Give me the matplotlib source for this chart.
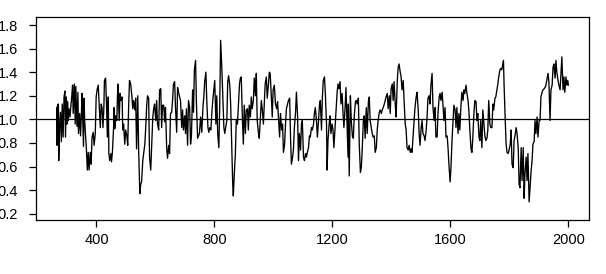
import matplotlib
matplotlib.use("Agg")
import matplotlib.pyplot as plt

years = [
    265, 266, 268, 271, 272, 275, 278, 281, 284, 287, 290, 293, 295, 298, 300, 302, 304, 307, 310, 316,
    319, 321, 325, 328, 330, 334, 337, 339, 343, 346, 349, 351, 356, 358, 360, 366, 369, 372, 375, 379,
    382, 385, 389, 392, 396, 399, 402, 406, 409, 413, 416, 419, 422, 425, 427, 431, 434, 437, 440, 442,
    445, 449, 451, 454, 458, 460, 462, 465, 469, 471, 473, 477, 480, 483, 487, 489, 492, 496, 499, 503,
    506, 509, 512, 516, 520, 523, 526, 530, 533, 536, 540, 543, 547, 550, 553, 557, 560, 564, 567, 570,
    573, 577, 580, 584, 587, 591, 594, 597, 601, 604, 607, 611, 614, 618, 621, 624, 628, 631, 634, 638,
    641, 645, 648, 651, 655, 658, 661, 665, 668, 672, 675, 678, 682, 685, 689, 692, 695, 699, 702, 705,
    709, 712, 716, 719, 722, 726, 729, 732, 736, 739, 743, 746, 749, 753,
    757, 761, 764, 767, 771, 774, 778, 781, 784, 788, 791, 794, 798, 801, 805, 808, 811, 815, 818, 821,
    825, 828, 832, 835, 838, 842, 845, 848, 852, 855, 859, 862, 864, 868, 871, 874, 878, 881, 885, 888,
    891, 895, 898, 901, 905, 908, 912, 915, 918, 922, 925, 928, 932, 935, 939, 942, 945, 949, 952, 956,
    959, 962, 966, 969, 972, 976, 979, 983, 986, 989, 993, 996, 999, 1003,
    1007, 1011, 1014, 1017, 1021, 1024, 1028, 1031, 1034, 1038, 1041, 1044, 1048, 1051, 1055, 1058, 1061,
    1065, 1068, 1071, 1075, 1078, 1082, 1085, 1088, 1092, 1095, 1098, 1102, 1105, 1109, 1112, 1115, 1119,
    1122, 1125, 1129, 1132, 1136, 1139, 1142, 1146, 1149, 1153, 1156, 1159, 1163, 1166, 1169, 1173, 1176,
    1180, 1182, 1185, 1189, 1192, 1195, 1199, 1202, 1205, 1209, 1212, 1216, 1219, 1222, 1226, 1229, 1233,
    1236, 1239, 1243, 1246, 1249, 1253,
    1254, 1257, 1261, 1264, 1268, 1271, 1274, 1278, 1281, 1284, 1288, 1291, 1295, 1298, 1301, 1305, 1308,
    1311, 1315, 1318, 1322, 1325, 1328, 1332, 1335, 1338, 1342, 1345, 1349, 1352, 1355, 1359, 1362, 1366,
    1369, 1372, 1376, 1379, 1382, 1386, 1389, 1393, 1396, 1399, 1403, 1406, 1409, 1413, 1416, 1420, 1423,
    1426, 1430, 1433, 1436, 1440, 1443, 1447, 1450, 1453, 1457, 1460, 1464, 1467, 1470, 1474, 1477, 1480,
    1484, 1487, 1491, 1494, 1497, 1501,
    1504, 1507, 1511, 1514, 1518, 1521, 1524, 1528, 1531, 1534, 1538, 1541, 1545, 1548, 1551, 1555, 1558,
    1562, 1565, 1568, 1572, 1575, 1578, 1582, 1585, 1589, 1592, 1595, 1599, 1602, 1605, 1609, 1612, 1616,
    1619, 1622, 1626, 1629, 1632, 1636, 1639, 1643, 1646, 1649, 1653, 1656, 1660, 1663, 1666, 1670, 1673,
    1676, 1680, 1683, 1687, 1690, 1693, 1697, 1700, 1703, 1707, 1710, 1714, 1717, 1720, 1724, 1727, 1730,
    1734, 1737, 1741, 1744, 1747, 1751,
    1754, 1758, 1761, 1764, 1768, 1771, 1774, 1778, 1780, 1782, 1786, 1789, 1792, 1796, 1799, 1803, 1806,
    1809, 1813, 1816, 1819, 1823, 1826, 1830, 1833, 1836, 1840, 1843, 1847, 1850, 1853, 1857, 1860, 1863,
    1867, 1870, 1874, 1877, 1880, 1884, 1887, 1890, 1894, 1897, 1901, 1904, 1907, 1911, 1914, 1918, 1921,
    1924, 1928, 1931, 1934, 1938, 1941, 1945, 1948, 1951, 1955, 1958, 1961, 1965, 1968, 1972, 1975, 1978,
    1982, 1985, 1988, 1992, 1995, 1998, 2000,
]

values = [
    1.10, 0.78, 1.12, 1.13, 0.65, 0.93, 1.06, 0.81, 1.13, 0.85, 1.19, 1.24, 0.85, 1.19, 0.96, 1.15, 0.99, 1.09, 1.02, 1.19,
    1.29, 1.05, 1.30, 0.96, 1.28, 0.94, 1.23, 0.88, 1.05, 0.86, 1.05, 1.22, 0.77, 1.18, 0.99, 0.74, 0.57, 0.72, 0.57, 0.72,
    0.62, 0.85, 0.89, 0.78, 0.88, 1.19, 1.25, 1.29, 1.13, 0.93, 1.13, 1.10, 0.93, 1.09, 1.33, 1.35, 1.13, 0.85, 1.19, 0.71,
    0.65, 0.71, 0.64, 0.72, 0.93, 1.10, 0.92, 1.03, 0.99, 1.18, 1.30, 0.99, 1.22, 1.16, 1.19, 0.91, 0.96, 0.79, 0.91, 0.86,
    0.78, 1.10, 1.33, 1.30, 1.20, 1.09, 1.16, 1.08, 1.18, 0.75, 1.20, 0.74, 0.37, 0.45, 0.47, 0.65, 0.71, 0.79, 0.93, 1.10,
    1.20, 1.18, 0.68, 0.57, 0.76, 1.02, 1.09, 1.13, 0.99, 1.16, 0.96, 0.91, 1.25, 1.26, 0.93, 1.12, 1.12, 0.98, 1.10, 0.76,
    0.67, 0.78, 0.71, 1.05, 1.06, 1.16, 1.30, 1.32, 1.10, 0.89, 1.27, 1.23, 1.19, 1.16, 0.93, 1.08, 0.91, 1.03, 0.88, 1.09,
    0.78, 1.16, 1.10, 0.79, 0.86, 1.25, 1.06, 1.42, 1.50, 1.13, 0.84, 0.86, 0.88, 1.02,
    0.89, 1.10, 1.19, 1.32, 1.40, 1.16, 0.93, 0.89, 0.93, 0.91, 1.05, 1.15, 1.25, 1.33, 0.96, 1.20, 0.88, 0.76, 1.13, 1.67,
    1.44, 1.22, 0.93, 0.88, 0.93, 0.99, 1.32, 1.37, 1.29, 1.13, 0.76, 0.45, 0.35, 0.57, 0.71, 0.99, 0.96, 1.10, 1.30, 1.35,
    1.36, 0.99, 0.79, 1.12, 0.88, 1.08, 1.09, 0.91, 1.12, 1.02, 1.19, 1.09, 1.16, 1.35, 1.20, 1.39, 0.99, 0.89, 0.84, 1.03,
    1.16, 1.09, 0.96, 1.12, 1.30, 1.36, 1.18, 1.29, 1.40, 1.39, 1.19, 1.02, 1.25, 1.29,
    1.13, 1.09, 1.15, 1.02, 0.85, 1.05, 0.91, 0.96, 0.72, 0.79, 0.96, 1.09, 1.13, 1.16, 1.18, 0.85, 0.62,
    0.68, 0.75, 0.93, 1.06, 1.23, 1.02, 0.65, 0.88, 0.74, 0.96, 0.99, 0.68, 0.65, 0.71, 0.68, 0.72, 0.76,
    0.86, 0.85, 0.93, 0.91, 0.96, 1.05, 1.10, 0.99, 0.85, 0.99, 1.12, 1.16, 0.91, 1.19, 1.33, 1.36, 1.22,
    0.96, 0.57, 0.82, 0.96, 1.03, 0.88, 0.96, 0.91, 0.76, 0.93, 1.05, 1.23, 1.30, 1.26, 1.32, 1.13, 1.22,
    1.05, 0.93, 1.10, 1.27, 1.02, 0.68,
    1.13, 0.52, 1.20, 0.99, 0.85, 0.84, 1.02, 1.15, 1.16, 1.13, 1.18, 0.79, 0.55, 0.59, 0.74, 0.99, 1.03,
    0.84, 1.10, 0.88, 1.15, 1.19, 0.99, 0.93, 0.88, 0.85, 0.86, 0.72, 0.76, 0.91, 0.99, 1.06, 1.08, 1.05,
    1.08, 1.10, 1.13, 1.16, 1.19, 1.22, 1.09, 1.20, 1.05, 1.26, 1.30, 1.16, 1.32, 1.13, 1.02, 1.33, 1.44,
    1.47, 1.40, 1.36, 1.25, 1.33, 1.16, 0.96, 0.91, 0.76, 0.74, 0.78, 0.72, 0.75, 0.72, 0.88, 0.99, 1.10,
    1.19, 1.23, 1.08, 0.88, 0.78, 0.93,
    0.99, 0.88, 0.86, 0.82, 0.91, 1.02, 1.18, 1.20, 1.13, 1.29, 1.39, 1.10, 0.99, 1.10, 0.85, 0.85, 1.05,
    1.19, 1.22, 1.16, 1.23, 1.12, 0.99, 1.10, 0.85, 0.86, 0.76, 0.62, 0.47, 0.59, 0.79, 0.99, 1.12, 1.08,
    0.93, 1.10, 0.88, 1.05, 0.91, 1.12, 1.23, 1.16, 1.25, 1.22, 1.29, 1.22, 1.16, 1.06, 0.91, 0.75, 0.72,
    0.84, 1.06, 1.16, 1.15, 0.99, 1.05, 0.85, 0.82, 0.99, 0.76, 1.08, 0.96, 0.86, 0.82, 0.84, 0.91, 1.16,
    0.96, 0.93, 0.93, 1.13, 1.08, 1.18,
    1.19, 1.25, 1.30, 1.36, 1.42, 1.43, 1.42, 1.47, 1.50, 1.30, 0.99, 0.79, 0.72, 0.71, 0.74, 0.79, 0.91,
    0.62, 0.59, 0.82, 0.86, 0.93, 0.88, 0.76, 0.45, 0.42, 0.76, 0.48, 0.76, 0.33, 0.54, 0.68, 0.48, 0.71,
    0.30, 0.42, 0.57, 0.65, 0.79, 0.81, 0.99, 0.88, 1.02, 0.85, 0.99, 0.99, 1.19, 1.23, 1.25, 1.26, 1.27,
    1.29, 1.35, 1.39, 1.32, 0.99, 1.25, 1.29, 1.44, 1.47, 1.35, 1.50, 1.40, 1.33, 1.29, 1.25, 1.39, 1.53,
    1.25, 1.36, 1.23, 1.36, 1.29, 1.33, 1.29,
]

x_ticks = [400, 800, 1200, 1600, 2000]
y_ticks = [0.2, 0.4, 0.6, 0.8, 1.0, 1.2, 1.4, 1.6, 1.8]
reference_level = 1.0

plt.rcParams['font.family'] = ['Liberation Sans', 'DejaVu Sans']

fig = plt.figure(figsize=(6.06, 2.74), dpi=100)
ax = fig.add_axes([36.3 / 606, 1 - 220.3 / 274, (588.7 - 36.3) / 606, (220.3 - 17) / 274])

ax.plot(years, values, color='black', linewidth=0.95)
ax.axhline(reference_level, color='black', linewidth=0.9)

ax.set_xlim(196, 2069)
ax.set_ylim(0.144, 1.868)
ax.set_xticks(x_ticks)
ax.set_xticklabels([str(t) for t in x_ticks])
ax.set_yticks(y_ticks)
ax.set_yticklabels([f"{t:.1f}" for t in y_ticks])

for s in ax.spines.values():
    s.set_linewidth(0.9)
    s.set_color('black')
ax.tick_params(axis='both', direction='out', length=5, width=0.9, colors='black', labelsize=10.5)
ax.tick_params(axis='x', pad=4)
ax.tick_params(axis='y', pad=8)

fig.savefig("out.png", dpi=100)
